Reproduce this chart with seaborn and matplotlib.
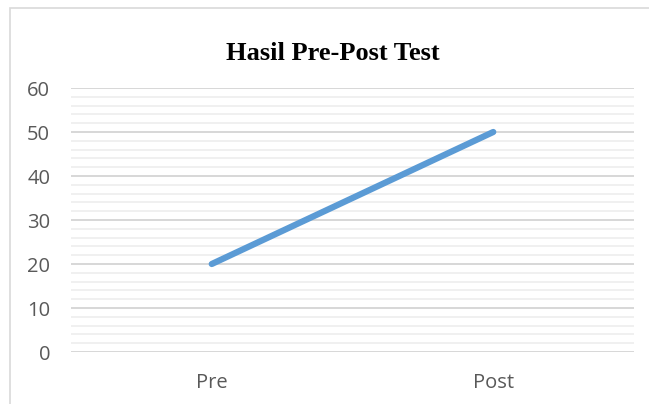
import matplotlib
matplotlib.use("Agg")
import matplotlib.pyplot as plt
from matplotlib.patches import Rectangle
from matplotlib.ticker import MultipleLocator
import seaborn as sns
import pandas as pd

# data
categories = ["Pre", "Post"]
scores = [20, 50]

sns.set_theme(style="white")
plt.rcParams['font.family'] = ['Open Sans', 'DejaVu Sans']

df = pd.DataFrame({'tes': categories, 'nilai': scores})

fig = plt.figure(figsize=(6.49, 4.04), dpi=100)
ax = fig.add_axes([71 / 649, 1 - 352 / 404, (634 - 71) / 649, (352 - 88) / 404])

# chart frame like the Excel chart area
fig.patches.append(Rectangle((10 / 649, -0.1), 1.2, 1.1 - 8 / 404,
                             transform=fig.transFigure, fill=False,
                             edgecolor='#D9D9D9', linewidth=1.2, zorder=0))

sns.lineplot(data=df, x='tes', y='nilai', ax=ax, color='#5B9BD5',
             linewidth=4.5, solid_capstyle='round', sort=False)

ax.set_xlim(-0.5, 1.5)
ax.set_ylim(0, 60)
ax.yaxis.set_major_locator(MultipleLocator(10))
ax.yaxis.set_minor_locator(MultipleLocator(2))
ax.grid(axis='y', which='major', color='#D4D4D4', linewidth=1.3, zorder=0)
ax.grid(axis='y', which='minor', color='#EEEEEE', linewidth=1.2, zorder=0)
ax.set_axisbelow(True)
for s in ax.spines.values():
    s.set_visible(False)
ax.tick_params(axis='both', which='both', length=0, colors='#595959', labelsize=14.5)
ax.tick_params(axis='y', pad=15)
ax.tick_params(axis='x', pad=15)
ax.set_xlabel('')
ax.set_ylabel('')

fig.text(333 / 649, 1 - 54 / 404, 'Hasil Pre-Post Test', ha='center', va='center',
         fontsize=19, fontweight='bold', family=['Liberation Serif', 'DejaVu Serif'],
         color='black')

fig.savefig('out.png', dpi=100, facecolor='white')
